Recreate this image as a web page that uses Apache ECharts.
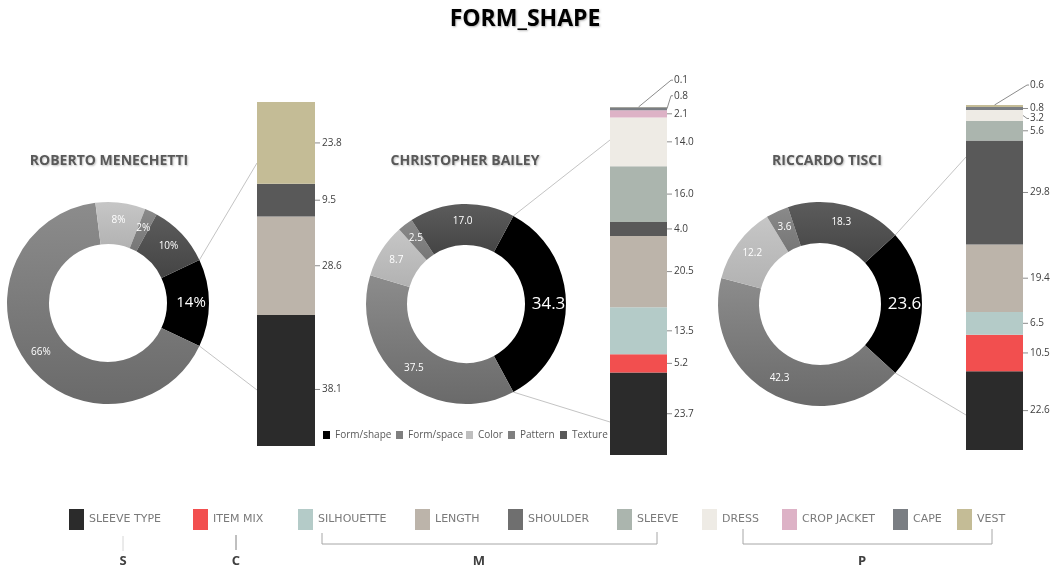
<!DOCTYPE html>
<html>
<head>
<meta charset="utf-8">
<title>FORM_SHAPE</title>
<script src="https://cdn.jsdelivr.net/npm/echarts@6/dist/echarts.min.js"></script>
<style>
  html, body { margin: 0; padding: 0; background: #ffffff; }
  #main { width: 1062px; height: 569px; }
</style>
</head>
<body>
<div id="main"></div>
<script>
// data
const designers = ["ROBERTO MENECHETTI", "CHRISTOPHER BAILEY", "RICCARDO TISCI"];
const pieNames = ["Form/shape", "Form/space", "Color", "Pattern", "Texture"];
const pieRM = [14, 66, 8, 2, 10];
const pieCB = [34.3, 37.5, 8.7, 2.5, 17.0];
const pieRT = [23.6, 42.3, 12.2, 3.6, 18.3];
const barNames = ["SLEEVE TYPE", "ITEM MIX", "SILHOUETTE", "LENGTH", "SHOULDER",
  "SLEEVE", "DRESS", "CROP JACKET", "CAPE", "VEST"];
const barRM = [38.1, null, null, 28.6, 9.5, null, null, null, null, 23.8];
const barCB = [23.7, 5.2, 13.5, 20.5, 4.0, 16.0, 14.0, 2.1, 0.8, 0.1];
const barRT = [22.6, 10.5, 6.5, 19.4, 29.8, 5.6, 3.2, null, 0.8, 0.6];
const groupLetters = ["S", "C", "M", "P"];

const font = "'Open Sans', sans-serif";
const pieColors = [
  ["#000000", "#000000"],
  ["#8c8c8c", "#6a6a6a"],
  ["#c6c6c6", "#b2b2b2"],
  ["#8a8a8a", "#767676"],
  ["#5c5c5c", "#444444"],
];
const pieLegendColors = ["#000000", "#7f7f7f", "#bfbfbf", "#7f7f7f", "#595959"];
const pieLegendLeft = [323, 396, 466, 508, 560];
const barColors = ["#2b2b2b", "#f24f4f", "#b4cbc8", "#bcb4aa", "#595959",
  "#abb5ae", "#eeebe5", "#ddb2c6", "#7a7e83", "#c4bc96"];
const legendColors = ["#2b2b2b", "#f24f4f", "#b4cbc8", "#bcb4aa", "#6f6f6f",
  "#abb5ae", "#eeebe5", "#ddb2c6", "#7a7e83", "#c4bc96"];
const legendLeft = [69, 193, 298, 415, 508, 617, 702, 782, 893, 957];

const panels = [
  { pie: pieRM, bar: barRM, pct: true, center: [108, 303], radius: [59, 101], big: 15,
    grid: { left: 257, top: 102, width: 58, height: 344 }, titleX: 109, link: [163, 390] },
  { pie: pieCB, bar: barCB, pct: false, center: [466, 304], radius: [59, 100], big: 17,
    grid: { left: 610, top: 107, width: 57, height: 348 }, titleX: 465, link: [140, 422] },
  { pie: pieRT, bar: barRT, pct: false, center: [820, 304], radius: [61, 102], big: 17,
    grid: { left: 966, top: 105, width: 57, height: 345 }, titleX: 827, link: [157, 415] },
];

// labels pushed off their segment: pixels, and where the leader starts
const labelShift = {
  "0-0": { dy: 9, from: "flat" },
  "1-9": { dy: -27, from: "top" },
  "1-8": { dy: -13, from: "edge" },
  "2-9": { dy: -21, from: "top" },
  "2-6": { dy: 3, from: "edge" },
};

const chart = echarts.init(document.getElementById("main"));

const titles = [{
  text: "FORM_SHAPE", left: 525, top: 8, textAlign: "center", padding: 0,
  textStyle: { fontFamily: font, fontWeight: "bold", fontSize: 23, color: "#000",
    textShadowColor: "rgba(0,0,0,0.3)", textShadowBlur: 2, textShadowOffsetX: 1, textShadowOffsetY: 1 },
}];
const grids = [], xAxes = [], yAxes = [], series = [], graphics = [];

panels.forEach((p, g) => {
  titles.push({
    text: designers[g], left: p.titleX, top: 154, textAlign: "center", padding: 0,
    textStyle: { fontFamily: font, fontWeight: "bold", fontSize: 14, color: "#595959",
      textShadowColor: "rgba(0,0,0,0.25)", textShadowBlur: 2, textShadowOffsetX: 1, textShadowOffsetY: 1 },
  });
  grids.push(p.grid);
  xAxes.push({ type: "category", gridIndex: g, data: [designers[g]], show: false });
  const total = p.bar.reduce((s, v) => s + (v || 0), 0);
  yAxes.push({ type: "value", gridIndex: g, min: 0, max: total, show: false });

  series.push({
    type: "pie",
    center: p.center,
    radius: p.radius,
    startAngle: p.pie[0] * 1.8,
    clockwise: true,
    avoidLabelOverlap: false,
    silent: true,
    label: {
      show: true, position: "inside", color: "#fff", fontSize: 10, fontFamily: font,
      formatter: (prm) => (p.pct ? prm.value + "%" : prm.value.toFixed(1)),
    },
    labelLine: { show: false },
    data: pieNames.map((n, i) => ({
      name: n,
      value: p.pie[i],
      itemStyle: {
        color: new echarts.graphic.LinearGradient(0, 0, 0, 1, [
          { offset: 0, color: pieColors[i][0] },
          { offset: 1, color: pieColors[i][1] },
        ]),
      },
      label: i === 0 ? { fontSize: p.big } : undefined,
    })),
  });

  barNames.forEach((n, k) => {
    const sh = labelShift[g + "-" + k];
    series.push({
      type: "bar",
      name: n,
      xAxisIndex: g,
      yAxisIndex: g,
      stack: "bar" + g,
      barWidth: "100%",
      silent: true,
      data: [p.bar[k]],
      itemStyle: { color: barColors[k] },
      label: {
        show: true, position: "right", distance: 7, fontSize: 10, fontFamily: font, color: "#404040",
        formatter: (prm) => prm.value.toFixed(1),
      },
      labelLayout: sh ? { dy: sh.dy } : null,
    });
  });

  // connector lines from the black slice to the bar
  const a = p.pie[0] * 1.8 * Math.PI / 180;
  const R = p.radius[1];
  const sx = p.center[0] + R * Math.cos(a);
  const dy = R * Math.sin(a);
  graphics.push({ type: "line", silent: true, z: 1,
    shape: { x1: sx, y1: p.center[1] - dy, x2: p.grid.left, y2: p.link[0] },
    style: { stroke: "#c4c4c4", lineWidth: 1 } });
  graphics.push({ type: "line", silent: true, z: 1,
    shape: { x1: sx, y1: p.center[1] + dy, x2: p.grid.left, y2: p.link[1] },
    style: { stroke: "#c4c4c4", lineWidth: 1 } });
});

// group brackets under the bottom legend
const brackets = [
  { x: 123, pts: [[123, 536], [123, 551]], color: "#d6d6d6" },
  { x: 236, pts: [[236, 535], [236, 550]], color: "#808080" },
  { x: 479, pts: [[322, 533], [322, 544], [657, 544], [657, 532]], color: "#a6a6a6" },
  { x: 862, pts: [[743, 529], [743, 544], [992, 544], [992, 529]], color: "#a6a6a6" },
];
brackets.forEach((b, i) => {
  graphics.push({ type: "polyline", silent: true, shape: { points: b.pts },
    style: { stroke: b.color, lineWidth: 1, fill: null } });
  graphics.push({ type: "text", silent: true, x: b.x, y: 561,
    style: { text: groupLetters[i], x: 0, y: 0, textAlign: "center", textVerticalAlign: "middle",
      font: "bold 13px 'Open Sans', sans-serif", fill: "#404040" } });
});

const legends = [];
pieNames.forEach((n, i) => {
  legends.push({
    data: [{ name: n, itemStyle: { color: pieLegendColors[i] } }],
    left: pieLegendLeft[i], top: 430, padding: 0,
    icon: "rect", itemWidth: 7, itemHeight: 8, selectedMode: false,
    textStyle: { fontFamily: font, fontSize: 10, color: "#595959" },
  });
});
barNames.forEach((n, k) => {
  legends.push({
    data: [{ name: n, itemStyle: { color: legendColors[k] } }],
    left: legendLeft[k], top: 509, padding: 0,
    icon: "rect", itemWidth: 15, itemHeight: 21, selectedMode: false,
    textStyle: { fontFamily: "'DejaVu Sans', sans-serif", fontSize: 11, color: "#7a7a7a" },
  });
});

chart.setOption({
  backgroundColor: "#ffffff",
  animation: false,
  title: titles,
  legend: legends,
  grid: grids,
  xAxis: xAxes,
  yAxis: yAxes,
  series: series,
});

// small ticks / leaders from each bar segment to its value label
panels.forEach((p, g) => {
  let acc = 0;
  const x0 = p.grid.left + p.grid.width;
  p.bar.forEach((v, k) => {
    if (v == null) return;
    const yMid = chart.convertToPixel({ yAxisIndex: g }, acc + v / 2);
    const yTop = chart.convertToPixel({ yAxisIndex: g }, acc + v);
    acc += v;
    const sh = labelShift[g + "-" + k];
    let pts;
    if (!sh) {
      pts = [[x0, yMid], [x0 + 5, yMid]];
    } else if (sh.from === "flat") {
      pts = [[x0, yMid + sh.dy], [x0 + 5, yMid + sh.dy]];
    } else if (sh.from === "top") {
      pts = [[x0 - p.grid.width / 2, yTop], [x0 + 4, yMid + sh.dy], [x0 + 6, yMid + sh.dy]];
    } else {
      pts = [[x0, yMid], [x0 + 4, yMid + sh.dy], [x0 + 6, yMid + sh.dy]];
    }
    graphics.push({ type: "polyline", silent: true, z: 5, shape: { points: pts },
      style: { stroke: "#8c8c8c", lineWidth: 1, fill: null } });
  });
});

chart.setOption({ graphic: graphics });
</script>
</body>
</html>
